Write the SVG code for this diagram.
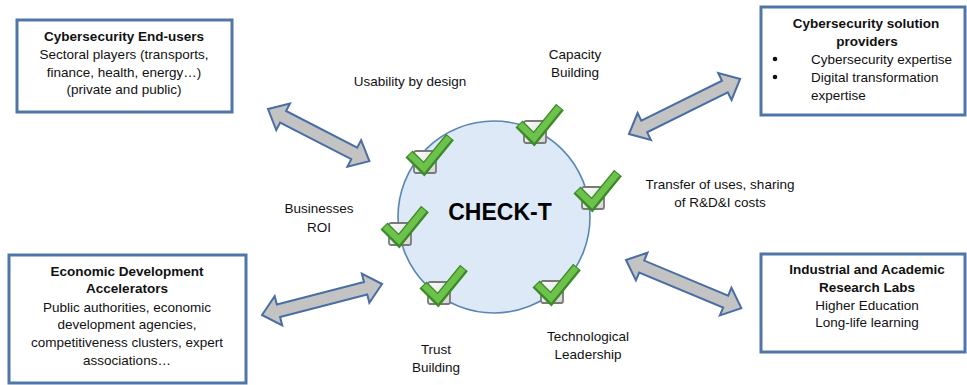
<svg xmlns="http://www.w3.org/2000/svg" xmlns:xlink="http://www.w3.org/1999/xlink" width="967" height="385" viewBox="0 0 967 385">
<style>
  text { font-family: "Liberation Sans", Arial, sans-serif; font-size: 13.5px; fill: #111; }
  .c { text-anchor: middle; }
  .b { font-weight: bold; }
  .box { fill: #ffffff; stroke: #4f76a6; stroke-width: 3; }
  .arrow { fill: #c3c3c3; stroke: #4a6ea4; stroke-width: 2; stroke-linejoin: miter; }
  .hub { fill: #dde9f6; stroke: #5a86b4; stroke-width: 1.6; }
  .title { font-family: "Liberation Sans", Arial, sans-serif; font-size: 23px; font-weight: bold; fill: #000; text-anchor: middle; }
</style>
<defs>
  <linearGradient id="boxg" x1="0" y1="0" x2="1" y2="1">
    <stop offset="0" stop-color="#ffffff"/>
    <stop offset="1" stop-color="#d4d4d4"/>
  </linearGradient>
  <g id="check">
    <rect x="0" y="0" width="22" height="22" rx="2" fill="url(#boxg)" stroke="#7a7a7a" stroke-width="1.8"/>
    <path d="M-5,3 L10,18 L36,-14" fill="none" stroke="#3c8a28" stroke-width="10" stroke-linejoin="miter"/>
    <path d="M-4,3.5 L10,17 L35,-13.5" fill="none" stroke="#6cc24a" stroke-width="6.5" stroke-linejoin="miter"/>
  </g>
</defs>

<g id="connectors">
  <polygon class="arrow" transform="translate(268,109) rotate(27.24)" points="0,0 17,-15 17,-6.5 97,-6.5 97,-15 114,0 97,15 97,6.5 17,6.5 17,15"/>
  <polygon class="arrow" transform="translate(262,315) rotate(-14.48)" points="0,0 17,-15 17,-6.5 107,-6.5 107,-15 124,0 107,15 107,6.5 17,6.5 17,15"/>
  <polygon class="arrow" transform="translate(629,134) rotate(-26.35)" points="0,0 17,-15 17,-6.5 107,-6.5 107,-15 124,0 107,15 107,6.5 17,6.5 17,15"/>
  <polygon class="arrow" transform="translate(626,260) rotate(22.66)" points="0,0 17,-15 17,-6.5 108,-6.5 108,-15 125,0 108,15 108,6.5 17,6.5 17,15"/>
</g>

<g id="hub">
  <circle class="hub" cx="494" cy="217" r="96"/>
  <text class="title" x="500" y="220">CHECK-T</text>
  <use xlink:href="#check" x="524" y="121"/>
  <use xlink:href="#check" x="414" y="151"/>
  <use xlink:href="#check" x="582" y="187"/>
  <use xlink:href="#check" x="389" y="223"/>
  <use xlink:href="#check" x="428" y="282"/>
  <use xlink:href="#check" x="541" y="281"/>
</g>

<g id="end-users">
  <rect class="box" x="17" y="20" width="215" height="92"/>
  <text class="c b" x="124" y="41">Cybersecurity End-users</text>
  <text class="c" x="124" y="59">Sectoral players (transports,</text>
  <text class="c" x="124" y="77">finance, health, energy…)</text>
  <text class="c" x="124" y="94">(private and public)</text>
</g>

<g id="solution-providers">
  <rect class="box" x="761" y="7" width="204" height="108"/>
  <text class="c b" x="866" y="28">Cybersecurity solution</text>
  <text class="c b" x="867" y="46">providers</text>
  <circle cx="775" cy="59" r="2.3" fill="#111"/>
  <text x="811" y="64">Cybersecurity expertise</text>
  <circle cx="775" cy="77" r="2.3" fill="#111"/>
  <text x="811" y="82">Digital transformation</text>
  <text x="811" y="100">expertise</text>
</g>

<g id="accelerators">
  <rect class="box" x="9" y="255" width="237" height="128"/>
  <text class="c b" x="127" y="276">Economic Development</text>
  <text class="c b" x="127" y="293">Accelerators</text>
  <text class="c" x="127" y="312">Public authorities, economic</text>
  <text class="c" x="127" y="329">development agencies,</text>
  <text class="c" x="127" y="347">competitiveness clusters, expert</text>
  <text class="c" x="127" y="365">associations…</text>
</g>

<g id="research-labs">
  <rect class="box" x="761" y="254" width="204" height="98"/>
  <text class="c b" x="867" y="274">Industrial and Academic</text>
  <text class="c b" x="867" y="292">Research Labs</text>
  <text class="c" x="867" y="310">Higher Education</text>
  <text class="c" x="867" y="327">Long-life learning</text>
</g>

<g id="labels">
  <text class="c" x="410" y="86">Usability by design</text>
  <text class="c" x="575" y="59">Capacity</text>
  <text class="c" x="575" y="77">Building</text>
  <text class="c" x="720" y="189">Transfer of uses, sharing</text>
  <text class="c" x="720" y="207">of R&amp;D&amp;I costs</text>
  <text class="c" x="319" y="213">Businesses</text>
  <text class="c" x="319" y="232">ROI</text>
  <text class="c" x="436" y="354">Trust</text>
  <text class="c" x="436" y="372">Building</text>
  <text class="c" x="588" y="341">Technological</text>
  <text class="c" x="588" y="359">Leadership</text>
</g>
</svg>
